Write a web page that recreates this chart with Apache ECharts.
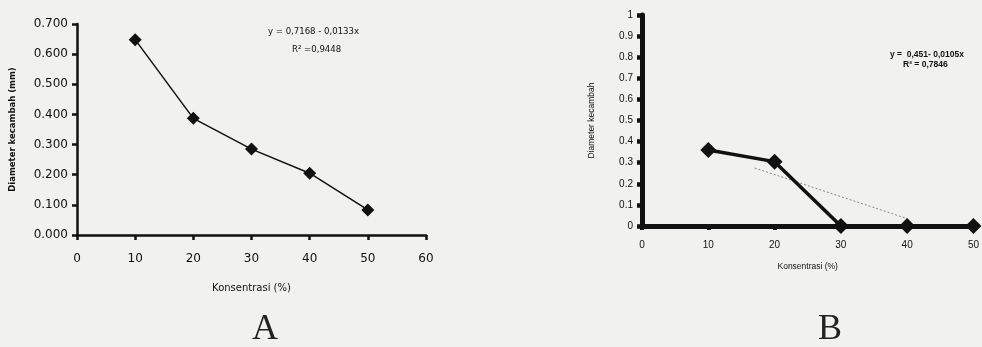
<!DOCTYPE html>
<html>
<head>
<meta charset="utf-8">
<script src="https://cdn.jsdelivr.net/npm/echarts@6/dist/echarts.min.js"></script>
<style>
html,body{margin:0;padding:0;background:#f1f1ef;}
#c{width:982px;height:347px;}
</style>
</head>
<body>
<div id="c"></div>
<script>
// Chart A
const concA = [10, 20, 30, 40, 50];
const diamA = [0.648, 0.387, 0.285, 0.205, 0.083];
// Chart B
const concB = [10, 20, 30, 40, 50];
const diamB = [0.36, 0.305, 0, 0, 0];
const trendBx = [17, 40];
const trendBy = [0.275, 0.035];
const eqA = ['y = 0,7168 - 0,0133x', 'R² =0,9448'];
const eqB = ['y =  0,451- 0,0105x', 'R² = 0,7846'];

const chart = echarts.init(document.getElementById('c'), null, {renderer: 'canvas'});
const black = '#111';
const fA = 'DejaVu Sans';
const fB = 'Liberation Sans';

chart.setOption({
  backgroundColor: '#f1f1ef',
  animation: false,
  grid: [
    {left: 77, top: 24, width: 349, height: 211},
    {left: 642, top: 15, width: 333, height: 211}
  ],
  xAxis: [
    {
      gridIndex: 0, type: 'value', min: 0, max: 60, interval: 10,
      name: 'Konsentrasi (%)', nameLocation: 'middle', nameGap: 48,
      nameTextStyle: {fontFamily: fA, fontSize: 10, color: black},
      axisLine: {lineStyle: {color: black, width: 2.5}},
      axisTick: {show: true, inside: false, length: 5, lineStyle: {color: black, width: 2.5}},
      axisLabel: {fontFamily: fA, fontSize: 12, color: black, margin: 18},
      splitLine: {show: false}
    },
    {
      gridIndex: 1, type: 'value', min: 0, max: 50, interval: 10,
      name: 'Konsentrasi (%)', nameLocation: 'middle', nameGap: 36,
      nameTextStyle: {fontFamily: fB, fontSize: 8.5, color: black},
      axisLine: {lineStyle: {color: black, width: 5}},
      axisTick: {show: true, inside: false, length: 4, lineStyle: {color: black, width: 4}},
      axisLabel: {fontFamily: fB, fontSize: 10, color: black, margin: 14},
      splitLine: {show: false}
    }
  ],
  yAxis: [
    {
      gridIndex: 0, type: 'value', min: 0, max: 0.7, interval: 0.1,
      name: 'Diameter kecambah (mm)', nameLocation: 'middle', nameGap: 60,
      nameTextStyle: {fontFamily: fA, fontSize: 8.5, fontWeight: 'bold', color: black},
      axisLine: {show: true, lineStyle: {color: black, width: 2.5}},
      axisTick: {show: true, inside: false, length: 5, lineStyle: {color: black, width: 2.5}},
      axisLabel: {fontFamily: fA, fontSize: 12, color: black, margin: 9,
        formatter: v => v.toFixed(3)},
      splitLine: {show: false}
    },
    {
      gridIndex: 1, type: 'value', min: 0, max: 1, interval: 0.1,
      name: 'Diameter kecambah', nameLocation: 'middle', nameGap: 46,
      nameTextStyle: {fontFamily: fB, fontSize: 8.5, color: black},
      axisLine: {show: true, lineStyle: {color: black, width: 5}},
      axisTick: {show: true, inside: false, length: 5, lineStyle: {color: black, width: 4.5}},
      axisLabel: {fontFamily: fB, fontSize: 10, color: black, margin: 9,
        formatter: v => (Math.round(v * 10) / 10).toString()},
      splitLine: {show: false}
    }
  ],
  series: [
    {
      type: 'line', xAxisIndex: 0, yAxisIndex: 0,
      data: concA.map((x, i) => [x, diamA[i]]),
      symbol: 'diamond', symbolSize: 13,
      lineStyle: {color: black, width: 1.5},
      itemStyle: {color: black}
    },
    {
      type: 'line', xAxisIndex: 1, yAxisIndex: 1,
      data: trendBx.map((x, i) => [x, trendBy[i]]),
      symbol: 'none',
      lineStyle: {color: '#888', width: 1, type: [2, 2]}
    },
    {
      type: 'line', xAxisIndex: 1, yAxisIndex: 1,
      data: concB.map((x, i) => [x, diamB[i]]),
      symbol: 'diamond', symbolSize: 16,
      lineStyle: {color: black, width: 3.5},
      itemStyle: {color: black}
    }
  ],
  graphic: [
    {type: 'text', left: 268, top: 27, style: {text: eqA[0], fontFamily: 'DejaVu Sans Condensed, DejaVu Sans', fontSize: 9.5, fill: black}},
    {type: 'text', left: 292, top: 45, style: {text: eqA[1], fontFamily: 'DejaVu Sans Condensed, DejaVu Sans', fontSize: 9.5, fill: black}},
    {type: 'text', left: 890, top: 50, style: {text: eqB[0], fontFamily: fB, fontSize: 8.5, fontWeight: 'bold', fill: black}},
    {type: 'text', left: 903, top: 60, style: {text: eqB[1], fontFamily: fB, fontSize: 8.5, fontWeight: 'bold', fill: black}},
    {type: 'text', left: 252, top: 312, style: {text: 'A', fontFamily: 'Liberation Serif', fontSize: 36, fill: '#222'}},
    {type: 'text', left: 818, top: 312, style: {text: 'B', fontFamily: 'Liberation Serif', fontSize: 36, fill: '#222'}}
  ]
});
</script>
</body>
</html>
